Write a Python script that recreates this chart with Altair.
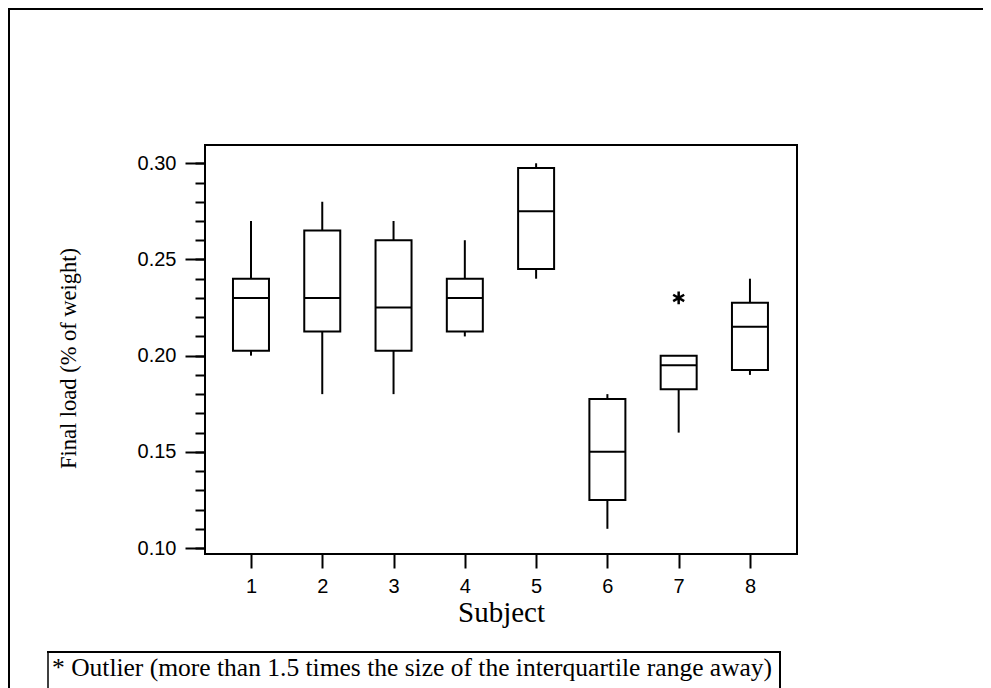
import altair as alt
import pandas as pd

# ---- data ----
subjects = [1, 2, 3, 4, 5, 6, 7, 8]
whisker_low = [0.20, 0.18, 0.18, 0.21, 0.24, 0.11, 0.16, 0.19]
q1 = [0.2025, 0.2125, 0.2025, 0.2125, 0.245, 0.125, 0.1825, 0.1925]
median = [0.23, 0.23, 0.225, 0.23, 0.275, 0.15, 0.195, 0.215]
q3 = [0.24, 0.265, 0.26, 0.24, 0.2975, 0.1775, 0.20, 0.2275]
whisker_high = [0.27, 0.28, 0.27, 0.26, 0.30, 0.18, 0.20, 0.24]
outlier_subject = [7]
outlier_value = [0.23]

y_major = [0.10, 0.15, 0.20, 0.25, 0.30]
y_minor = [0.10, 0.11, 0.12, 0.13, 0.14, 0.15, 0.16, 0.17, 0.18, 0.19, 0.20,
           0.21, 0.22, 0.23, 0.24, 0.25, 0.26, 0.27, 0.28, 0.29, 0.30]

footnote = "* Outlier (more than 1.5 times the size of the interquartile range away)"

boxes = pd.DataFrame({
    "subject": subjects, "lo": whisker_low, "q1": q1,
    "med": median, "q3": q3, "hi": whisker_high,
})
outliers = pd.DataFrame({"subject": outlier_subject, "value": outlier_value})

W, H = 592, 409
SANS = "Liberation Sans"
SERIF = "Liberation Serif"

xscale = alt.Scale(domain=[0.355, 8.66], nice=False, zero=False, padding=0)
yscale = alt.Scale(domain=[0.0969, 0.3095], nice=False, zero=False, padding=0)

x_axis = alt.Axis(
    orient="bottom", values=subjects, tickSize=14, tickWidth=2,
    tickColor="black", domain=False, grid=False, labelFont=SANS,
    labelFontSize=20, labelColor="black", labelPadding=8, title="Subject",
    titleFont=SERIF, titleFontSize=29, titleFontWeight="normal",
    titleColor="black", titleBaseline="middle", titleY=58, titleX=W / 2,
    titleAlign="center",
)
y_axis_major = alt.Axis(
    orient="left", values=y_major, format=".2f", tickSize=20, tickWidth=2,
    tickColor="black", domain=False, grid=False, labelFont=SANS,
    labelFontSize=20, labelColor="black", labelPadding=9,
    title="Final load (% of weight)", titleFont=SERIF, titleFontSize=22.5,
    titleFontWeight="normal", titleColor="black", titleAngle=270,
    titleBaseline="middle", titleAlign="center", titleX=-137, titleY=213,
)
y_axis_minor = alt.Axis(
    orient="left", values=y_minor, tickSize=10, tickWidth=2,
    tickColor="black", domain=False, grid=False, labels=False, title=None,
)

base = alt.Chart(boxes)

whisker = base.mark_rule(color="black", strokeWidth=2).encode(
    x=alt.X("subject:Q", scale=xscale, axis=x_axis),
    y=alt.Y("lo:Q", scale=yscale, axis=y_axis_minor),
    y2="hi:Q",
)

box = base.mark_bar(size=36, fill="white", fillOpacity=1, stroke="black",
                    strokeWidth=2).encode(
    x=alt.X("subject:Q", scale=xscale, axis=x_axis),
    y=alt.Y("q1:Q", scale=yscale, axis=y_axis_major),
    y2="q3:Q",
)

med = base.mark_tick(orient="horizontal", size=36, thickness=2,
                     color="black", opacity=1).encode(
    x=alt.X("subject:Q", scale=xscale, axis=x_axis),
    y=alt.Y("med:Q", scale=yscale, axis=None),
)

star = alt.Chart(outliers).mark_point(
    shape="M0,-1L0,1M-0.87,-0.5L0.87,0.5M-0.87,0.5L0.87,-0.5",
    size=160, filled=False, stroke="black", strokeWidth=2.5, opacity=1,
).encode(
    x=alt.X("subject:Q", scale=xscale, axis=x_axis),
    y=alt.Y("value:Q", scale=yscale, axis=None),
)

one = alt.Data(values=[{}])
frame_top = alt.Chart(one).mark_rule(color="black", strokeWidth=2).encode(
    x=alt.value(-197), x2=alt.value(800), y=alt.value(-136), y2=alt.value(-136))
frame_left = alt.Chart(one).mark_rule(color="black", strokeWidth=2).encode(
    x=alt.value(-196), x2=alt.value(-196), y=alt.value(-137), y2=alt.value(560))

fn_top = alt.Chart(one).mark_rule(color="black", strokeWidth=2).encode(
    x=alt.value(-158), x2=alt.value(576), y=alt.value(507), y2=alt.value(507))
fn_left = alt.Chart(one).mark_rule(color="black", strokeWidth=1.5).encode(
    x=alt.value(-157), x2=alt.value(-157), y=alt.value(507), y2=alt.value(560))
fn_right = alt.Chart(one).mark_rule(color="black", strokeWidth=2).encode(
    x=alt.value(575), x2=alt.value(575), y=alt.value(507), y2=alt.value(560))
fn_text = alt.Chart(one).mark_text(
    text=footnote, font=SERIF, fontSize=25.5, color="black", align="left",
    baseline="alphabetic",
).encode(x=alt.value(-153), y=alt.value(531))

chart = alt.layer(
    whisker, box, med, star, frame_top, frame_left, fn_top, fn_left,
    fn_right, fn_text,
).resolve_axis(y="independent").properties(
    width=W, height=H,
    autosize=alt.AutoSizeParams(type="none"),
    padding={"left": 197, "top": 137, "right": 186, "bottom": 134},
).configure_view(stroke="black", strokeWidth=2)

chart.save("out.html", embed_options={"renderer": "svg", "actions": False})
